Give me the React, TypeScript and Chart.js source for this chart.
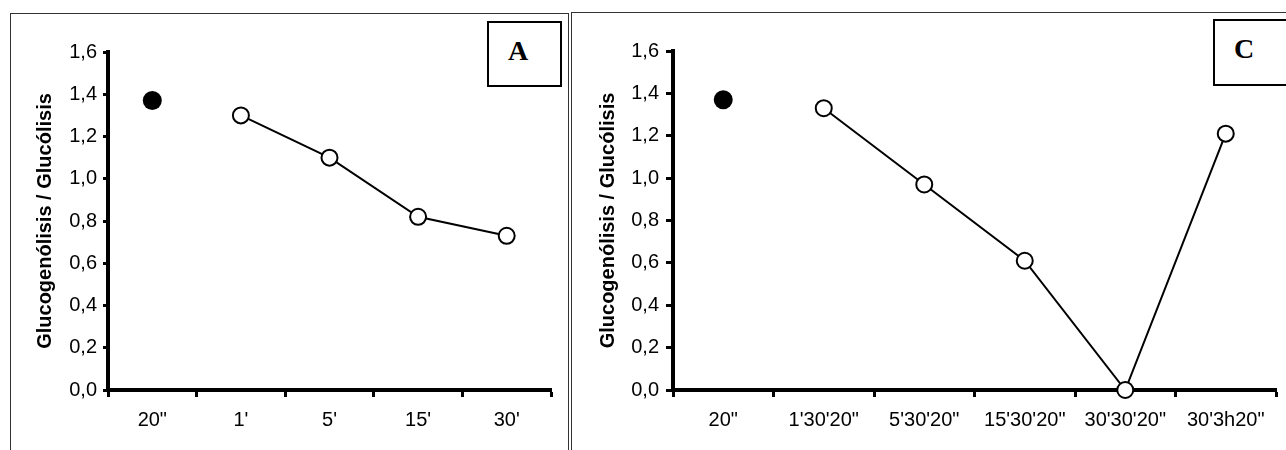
import React, { useEffect, useRef } from 'react';
import { Chart, registerables } from 'chart.js';

Chart.register(...registerables);

const yTickValues = [0, 0.2, 0.4, 0.6, 0.8, 1.0, 1.2, 1.4, 1.6];
const yTitle = 'Glucogenólisis / Glucólisis';

const labelsA = ['20"', "1'", "5'", "15'", "30'"];
const controlA = [1.37, null, null, null, null];
const valuesA = [null, 1.30, 1.10, 0.82, 0.73];

const labelsC = ['20"', "1'30'20\"", "5'30'20\"", "15'30'20\"", "30'30'20\"", "30'3h20\""];
const controlC = [1.37, null, null, null, null, null];
const valuesC = [null, 1.33, 0.97, 0.61, 0.0, 1.21];

const FONT = '"Liberation Sans", Arial, Helvetica, sans-serif';
const SERIF = '"Liberation Serif", "Times New Roman", serif';

type Cfg = {
  labels: string[];
  control: (number | null)[];
  values: (number | null)[];
  yWidth: number;
  top: number;
  right: number;
  yTickLen: number;
  yTickPad: number;
  titlePad: number;
};

function makeConfig(c: Cfg): any {
  return {
    type: 'line',
    data: {
      labels: c.labels,
      datasets: [
        {
          data: c.control,
          showLine: false,
          pointRadius: 9.5,
          pointHoverRadius: 9.5,
          pointBackgroundColor: '#000',
          pointBorderColor: '#000',
          pointBorderWidth: 0,
          borderColor: '#000',
          clip: false,
        },
        {
          data: c.values,
          showLine: true,
          borderColor: '#000',
          borderWidth: 2,
          pointRadius: 8,
          pointHoverRadius: 8,
          pointBorderWidth: 2,
          pointBackgroundColor: '#fff',
          pointBorderColor: '#000',
          tension: 0,
          clip: false,
        },
      ],
    },
    options: {
      responsive: false,
      animation: false,
      events: [],
      layout: { padding: { left: 0, top: c.top, right: c.right, bottom: 0 } },
      plugins: {
        legend: { display: false },
        tooltip: { enabled: false },
        title: { display: false },
      },
      scales: {
        x: {
          type: 'category',
          offset: true,
          grid: {
            offset: true,
            display: true,
            drawOnChartArea: false,
            drawTicks: true,
            tickLength: 7,
            tickWidth: 3,
            tickColor: '#000',
          },
          border: { display: true, color: '#000', width: 4 },
          ticks: {
            color: '#000',
            font: { family: FONT, size: 20 },
            padding: 11,
            maxRotation: 0,
            minRotation: 0,
            autoSkip: false,
          },
          afterFit: (s: any) => {
            s.height = 60;
          },
        },
        y: {
          type: 'linear',
          min: 0,
          max: 1.6,
          grid: {
            display: true,
            drawOnChartArea: false,
            drawTicks: true,
            tickLength: c.yTickLen,
            tickWidth: 3,
            tickColor: '#000',
          },
          border: { display: true, color: '#000', width: 4 },
          ticks: {
            color: '#000',
            font: { family: FONT, size: 20 },
            padding: c.yTickPad,
            callback: (v: any) => Number(v).toFixed(1).replace('.', ','),
          },
          afterBuildTicks: (s: any) => {
            s.ticks = yTickValues.map((v) => ({ value: v }));
          },
          title: {
            display: true,
            text: yTitle,
            color: '#000',
            font: { family: FONT, size: 20, weight: 'bold' },
            padding: { top: c.titlePad, bottom: 0 },
          },
          afterFit: (s: any) => {
            s.width = c.yWidth;
          },
        },
      },
    },
  };
}

function ChartCanvas({ left, width, cfg }: { left: number; width: number; cfg: Cfg }) {
  const ref = useRef<HTMLCanvasElement | null>(null);
  useEffect(() => {
    if (!ref.current) return;
    const chart = new Chart(ref.current, makeConfig(cfg));
    return () => chart.destroy();
  }, []);
  return (
    <canvas
      ref={ref}
      width={width}
      height={450}
      style={{ position: 'absolute', left, top: 0, width, height: 450, display: 'block' }}
    />
  );
}

const cfgA: Cfg = {
  labels: labelsA,
  control: controlA,
  values: valuesA,
  yWidth: 108,
  top: 52,
  right: 17,
  yTickLen: 5,
  yTickPad: 6,
  titlePad: 33,
};

const cfgC: Cfg = {
  labels: labelsC,
  control: controlC,
  values: valuesC,
  yWidth: 101,
  top: 51,
  right: 7,
  yTickLen: 7,
  yTickPad: 7,
  titlePad: 24,
};

export default function App() {
  return (
    <div
      style={{
        position: 'absolute',
        left: 0,
        top: 0,
        width: 1286,
        height: 450,
        overflow: 'hidden',
        background: '#fff',
      }}
    >
      <div
        style={{
          position: 'absolute',
          left: 10,
          top: 13,
          width: 559,
          height: 500,
          border: '1.5px solid #333',
          boxSizing: 'border-box',
        }}
      />
      <div
        style={{
          position: 'absolute',
          left: 571,
          top: 12,
          width: 800,
          height: 500,
          border: '1px solid #333',
          boxSizing: 'border-box',
        }}
      />
      <ChartCanvas left={0} width={568} cfg={cfgA} />
      <ChartCanvas left={572} width={714} cfg={cfgC} />
      <div
        style={{
          position: 'absolute',
          left: 487,
          top: 21,
          width: 75,
          height: 66,
          border: '2px solid #000',
          boxSizing: 'border-box',
          background: '#fff',
        }}
      >
        <span
          style={{
            position: 'absolute',
            left: 29,
            top: 28,
            transform: 'translate(-50%, -50%)',
            fontFamily: SERIF,
            fontWeight: 'bold',
            fontSize: 28,
            lineHeight: '28px',
          }}
        >
          A
        </span>
      </div>
      <div
        style={{
          position: 'absolute',
          left: 1213,
          top: 19,
          width: 100,
          height: 67,
          border: '2px solid #000',
          boxSizing: 'border-box',
          background: '#fff',
        }}
      >
        <span
          style={{
            position: 'absolute',
            left: 29,
            top: 27.5,
            transform: 'translate(-50%, -50%)',
            fontFamily: SERIF,
            fontWeight: 'bold',
            fontSize: 28,
            lineHeight: '28px',
          }}
        >
          C
        </span>
      </div>
    </div>
  );
}
